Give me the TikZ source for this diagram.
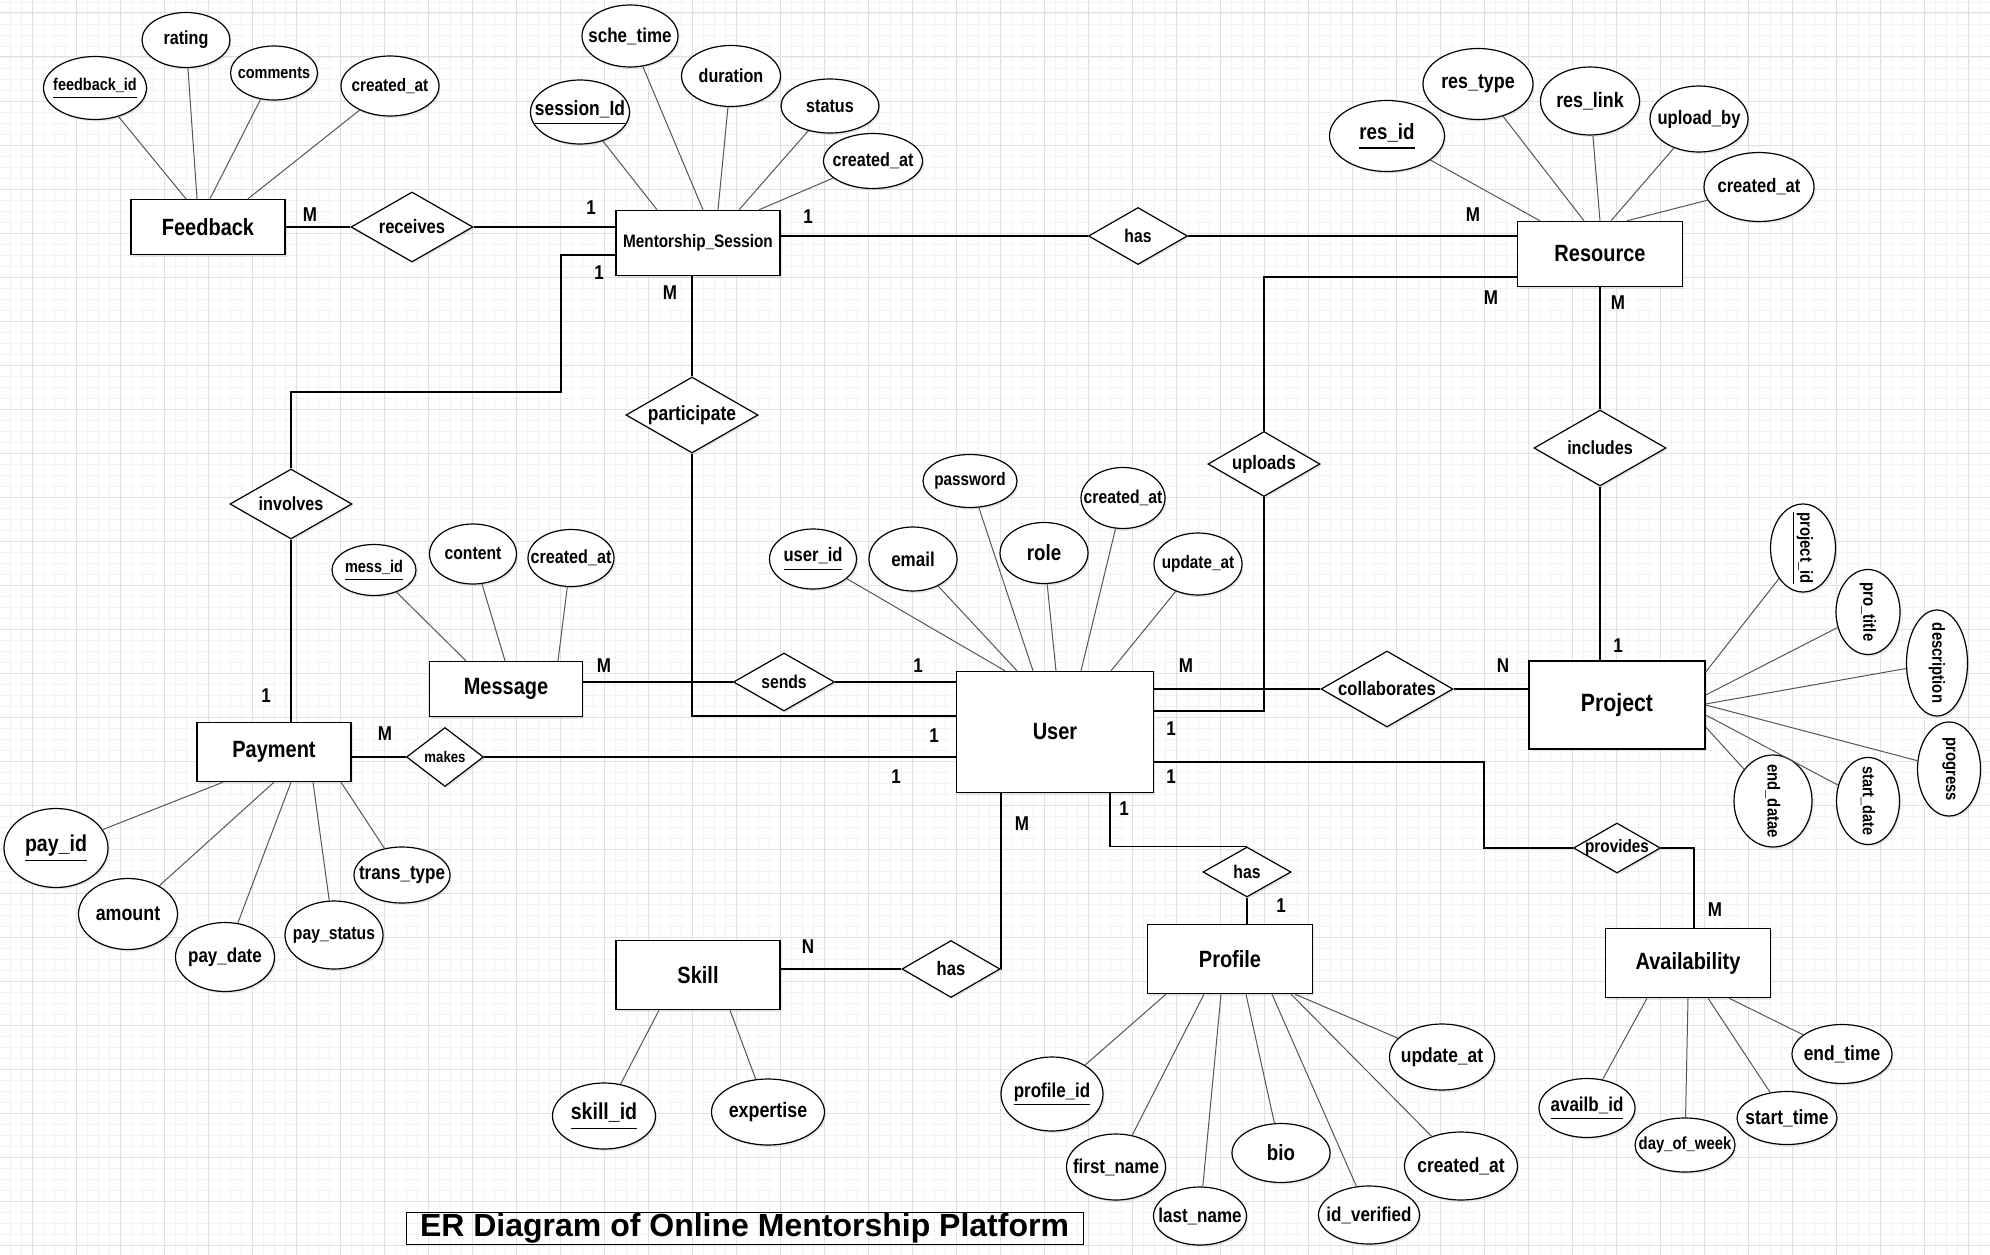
\documentclass[tikz,border=0pt]{standalone}
\usepackage{fontspec}
\setmainfont{Liberation Sans}[FakeStretch=0.85]
\newfontfamily\titlefont{Liberation Sans}
\usetikzlibrary{shapes.geometric}
\usetikzlibrary{shadows}
\definecolor{attrgray}{RGB}{85,85,85}
\definecolor{gridminor}{RGB}{243,243,243}
\definecolor{gridmajor}{RGB}{224,224,224}
\newcommand{\lbl}[2]{\makebox[0pt]{\fontsize{#1}{#1}\selectfont\bfseries #2}}
\newcommand{\ul}[1]{\setbox0\hbox{#1}\rlap{\raisebox{-0.42em}{\rule{\wd0}{1.1pt}}}\box0}
\tikzset{
    soft/.style={drop shadow={opacity=0.18,shadow xshift=1.5pt,shadow yshift=-2pt}},
    entity/.style 2 args={rectangle,draw,line width=1.4pt,fill=white,soft,inner sep=0pt,minimum width=#1,minimum height=#2},
    rel/.style 2 args={diamond,draw,line width=1.2pt,fill=white,soft,inner sep=0pt,aspect=1.74,minimum width=#1,minimum height=#2},
    attr/.style 2 args={ellipse,draw,line width=1.2pt,fill=white,soft,inner sep=0pt,minimum width=#1,minimum height=#2},
    card/.style={font=\bfseries\fontsize{20}{20}\selectfont,inner sep=0pt},
    link/.style={line width=1.1pt},
    attrlink/.style={line width=1pt,attrgray}
}

\begin{document}
\begin{tikzpicture}[x=1pt,y=-1pt]
    \useasboundingbox (0,0) rectangle (1990,1255);
    \fill[white] (0,0) rectangle (1990,1255);
    \foreach \gx in {10.5,21.5,...,1990}
        \draw[gridminor,line width=0.8pt] (\gx,0) -- (\gx,1255);
    \foreach \gy in {2,13,...,1255}
        \draw[gridminor,line width=0.8pt] (0,\gy) -- (1990,\gy);
    \foreach \gx in {32.5,76.5,...,1990}
        \draw[gridmajor,line width=1pt] (\gx,0) -- (\gx,1255);
    \foreach \gy in {13,57,...,1255}
        \draw[gridmajor,line width=1pt] (0,\gy) -- (1990,\gy);

    \foreach \nm/\x/\y/\w/\h/\fs/\txt in {
        Feedback/208/227/154/55/23.5/Feedback,
        MS/698/243/164/65/18/Mentorship\_Session,
        Resource/1600/254/165/65/23.5/Resource,
        Message/506/689/153/55/23.5/Message,
        Payment/274/752/154/59/23.5/Payment,
        User/1055/732/197/121/23.5/User,
        Project/1617/705/176/88/25/Project,
        Skill/698/975/164/69/23.5/Skill,
        Profile/1230/959/165/69/23.5/Profile,
        Availability/1688/963/165/69/23.5/Availability}
        \node[entity={\w}{\h}] (\nm) at (\x,\y) {\lbl{\fs}{\txt}};

    \foreach \nm/\x/\y/\w/\h/\fs/\txt in {
        receives/412/227/122/70/19.5/receives,
        hasR/1138/236/99/57/18.5/has,
        involves/291/504/122/70/19/involves,
        participate/692/415/132/76/20.5/participate,
        sends/784/682/101/58/18.5/sends,
        makes/445/757/77/59/15.5/makes,
        uploads/1264/464/112/65/19.5/uploads,
        collab/1387/689/132/76/19.5/collaborates,
        includes/1600/448/132/76/19/includes,
        provides/1617/848/87/50/18/provides,
        hasS/951/969/98/57/19.5/has,
        hasP/1247/872/88/50/18.5/has}
        \node[rel={\w}{\h}] (\nm) at (\x,\y) {\lbl{\fs}{\txt}};

    \foreach \nm/\x/\y/\w/\h/\fs/\txt in {
        fbid/95/88/103/63/17/\ul{feedback\_id},
        rating/186/40/88/55/19/rating,
        comments/274/73/87/54/17/comments,
        fbcreated/390/86/98/60/18/created\_at,
        sessid/580/112/99/64/20.5/\ul{session\_Id},
        schetime/630/36/96/62/20/sche\_time,
        duration/731/76/99/61/19/duration,
        status/830/106/98/54/19/status,
        mscreated/873/161/99/55/19/created\_at,
        resid/1387/136/115/71/22/\ul{res\_id},
        restype/1478/84/110/71/21/res\_type,
        reslink/1590/101/99/68/21/res\_link,
        uploadby/1699/119/98/66/19.5/upload\_by,
        rescreated/1759/187/110/69/19.5/created\_at,
        messid/374/570/84/51/17/\ul{mess\_id},
        content/473/554/87/60/18.5/content,
        msgcreated/571/558/86/57/19/created\_at,
        userid/813/559/87/60/19.5/\ul{user\_id},
        email/913/559/88/64/20/email,
        password/970/481/94/53/18/password,
        role/1044/553/88/61/22/role,
        usercreated/1123/498/84/61/18.5/created\_at,
        userupdate/1198/564/88/62/18/update\_at,
        payid/56/848/104/79/23/\ul{pay\_id},
        amount/128/914/99/71/21/amount,
        paydate/225/957/99/69/20/pay\_date,
        paystatus/334/935/98/68/18.5/pay\_status,
        transtype/402/875/96/56/20/trans\_type,
        skillid/604/1116/103/66/23/\ul{skill\_id},
        expertise/768/1112/113/66/21/expertise,
        profid/1052/1094/102/74/20/\ul{profile\_id},
        firstname/1116/1167/99/66/20/first\_name,
        lastname/1200/1216/93/58/20/last\_name,
        bio/1281/1153/98/59/22/bio,
        idverified/1369/1215/101/58/20/id\_verified,
        profcreated/1461/1166/113/68/20.5/created\_at,
        profupdate/1442/1057/105/66/20.5/update\_at,
        availid/1587/1108/96/59/20/\ul{availb\_id},
        dayofweek/1685/1145/100/54/17.5/day\_of\_week,
        starttime/1787/1118/100/53/20.5/start\_time,
        endtime/1842/1054/100/59/20.5/end\_time}
        \node[attr={\w}{\h}] (\nm) at (\x,\y) {\lbl{\fs}{\txt}};

    \foreach \nm/\x/\y/\w/\h/\fs/\txt in {
        projid/1803/548/88/65/17.5/\ul{project\_id},
        protitle/1868/612/85/64/17.5/pro\_title,
        description/1937/663/106/61/17.5/description,
        progress/1949/769/94/63/17.5/progress,
        startdate/1868/801/87/63/17/start\_date,
        enddate/1773/801/92/78/17.5/end\_datae}
        \node[attr={\w}{\h},rotate=-90] (\nm) at (\x,\y) {\lbl{\fs}{\txt}};

    \foreach \a/\d in {fbid/-22,rating/-11,comments/2,fbcreated/40}
        \draw[attrlink] (\a) -- ([xshift=\d]Feedback.north);
    \foreach \a/\d in {sessid/-41,schetime/5,duration/20,status/41,mscreated/61}
        \draw[attrlink] (\a) -- ([xshift=\d]MS.north);
    \foreach \a/\d in {resid/-60,restype/-16,reslink/0,uploadby/11,rescreated/27}
        \draw[attrlink] (\a) -- ([xshift=\d]Resource.north);
    \foreach \a/\d in {messid/-40,content/-1,msgcreated/52}
        \draw[attrlink] (\a) -- ([xshift=\d]Message.north);
    \foreach \a/\d in {userid/-50,email/-38,password/-22,role/1,usercreated/26,userupdate/56}
        \draw[attrlink] (\a) -- ([xshift=\d]User.north);
    \foreach \a/\d in {payid/-51,amount/0,paydate/17,paystatus/39,transtype/67}
        \draw[attrlink] (\a) -- ([xshift=\d]Payment.south);
    \foreach \a/\d in {skillid/-39,expertise/32}
        \draw[attrlink] (\a) -- ([xshift=\d]Skill.south);
    \foreach \a/\d in {profid/-64,firstname/-26,lastname/-9,bio/16,idverified/42,profcreated/61,profupdate/65}
        \draw[attrlink] (\a) -- ([xshift=\d]Profile.south);
    \foreach \a/\d in {availid/-41,dayofweek/0,starttime/20,endtime/41}
        \draw[attrlink] (\a) -- ([xshift=\d]Availability.south);
    \foreach \a/\d in {projid/33,protitle/10,description/1,progress/0,startdate/-10,enddate/-22}
        \draw[attrlink] (\a) -- ([yshift=\d]Project.east);

    \coordinate (invbend) at (561,392);
    \coordinate (provbend) at (1484,848);
    \draw[link] (receives) -- (receives -| Feedback.east);
    \draw[link] (receives) -- (receives -| MS.west);
    \draw[link] (hasR) -- (hasR -| MS.east);
    \draw[link] (hasR) -- (hasR -| Resource.west);
    \draw[link] ([yshift=-12]MS.west) -| (invbend) -| (involves);
    \draw[link] (involves) -- (involves |- Payment.north);
    \draw[link] (participate) -- (participate |- MS.south);
    \draw[link] (participate) |- ([yshift=16]User.west);
    \draw[link] (sends) -- (sends -| Message.east);
    \draw[link] (sends) -- (sends -| User.west);
    \draw[link] (makes) -- (makes -| Payment.east);
    \draw[link] (makes) -- (makes -| User.west);
    \draw[link] (collab) -- (collab -| User.east);
    \draw[link] (collab) -- (collab -| Project.west);
    \draw[link] ([yshift=21]User.east) -| (uploads);
    \draw[link] (uploads) |- ([yshift=-23]Resource.west);
    \draw[link] (includes) -- (includes |- Resource.south);
    \draw[link] (includes) -- (includes |- Project.north);
    \draw[link] ([yshift=-30]User.east) -| (provbend) -- (provides);
    \draw[link] (provides) -| ([xshift=6]Availability.north);
    \draw[link] ([xshift=55]User.south) |- (hasP.north);
    \draw[link] (hasP) -- (hasP |- Profile.north);
    \draw[link] ([xshift=-54]User.south) |- (hasS.east);
    \draw[link] (hasS) -- (hasS -| Skill.east);

    \foreach \t/\x/\y [count=\i] in {M/310/215,1/591/208,1/599/273,M/670/293,1/808/217,
        M/1473/215,M/1491/298,M/1618/303,1/1618/646,N/1503/666,M/1186/666,
        1/1171/729,1/1171/777,1/266/696,M/385/734,M/604/666,1/918/666,
        1/934/736,1/896/777,1/1124/809,M/1022/824,N/808/947,1/1281/906,M/1715/910}
        \node[card] (card\i) at (\x,\y) {\t};

    \node[draw,line width=1pt,inner sep=0pt,minimum width=677,minimum height=32] (title) at (744.5,1228)
        {\makebox[0pt]{\titlefont\bfseries\fontsize{32}{32}\selectfont ER Diagram of Online Mentorship Platform}};
\end{tikzpicture}
\end{document}
